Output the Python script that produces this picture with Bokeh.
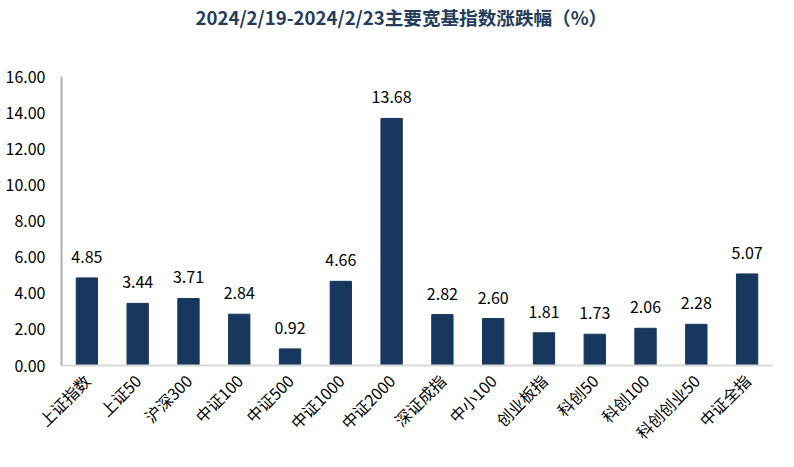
from math import pi
from bokeh.plotting import figure
from bokeh.models import ColumnDataSource, NumeralTickFormatter, FixedTicker, Title
from bokeh.core.properties import value
from bokeh.embed import file_html
from bokeh.resources import INLINE

categories = ["上证指数", "上证50", "沪深300", "中证100", "中证500", "中证1000", "中证2000",
              "深证成指", "中小100", "创业板指", "科创50", "科创100", "科创创业50", "中证全指"]
values = [4.85, 3.44, 3.71, 2.84, 0.92, 4.66, 13.68, 2.82, 2.60, 1.81, 1.73, 2.06, 2.28, 5.07]
y_ticks = [0, 2, 4, 6, 8, 10, 12, 14, 16]
title_text = "2024/2/19-2024/2/23主要宽基指数涨跌幅（%）"

FONT = "Noto Sans CJK SC"
BAR = "#17375E"

src = ColumnDataSource(dict(cat=categories, val=values, lab=[f"{v:.2f}" for v in values]))

p = figure(x_range=categories, y_range=(0, 16), width=786, height=455,
           output_backend="svg", toolbar_location=None,
           min_border_left=61, min_border_right=14, min_border_top=76, min_border_bottom=85)
p.x_range.range_padding = 0
p.title.text = ""

spacer = Title(text=" ", text_font_size="1px", standoff=44)
main_title = Title(text=title_text, align="left", offset=134, vertical_align="bottom",
                   standoff=0, text_font=FONT, text_font_size="18.6px",
                   text_font_style="bold", text_color="#243B5C")
p.add_layout(spacer, "above")
p.add_layout(main_title, "above")

p.vbar(x="cat", top="val", width=0.42, source=src, color=BAR)
p.text(x="cat", y="val", text="lab", source=src, text_align="center", text_baseline="bottom",
       y_offset=-15, text_font=value(FONT), text_font_size="16px", text_color="#000000")

p.outline_line_color = None
p.xgrid.grid_line_color = None
p.ygrid.grid_line_color = None

p.yaxis.ticker = FixedTicker(ticks=y_ticks)
p.yaxis.formatter = NumeralTickFormatter(format="0.00")
p.yaxis.axis_line_color = "#AFAFAF"
p.yaxis.axis_line_width = 2
p.yaxis.major_tick_line_color = None
p.yaxis.minor_tick_line_color = None
p.yaxis.major_label_text_font = FONT
p.yaxis.major_label_text_font_size = "16px"
p.yaxis.major_label_text_color = "#000000"
p.yaxis.major_label_standoff = 10

p.xaxis.axis_line_color = "#D9D9D9"
p.xaxis.axis_line_width = 2
p.xaxis.major_tick_line_color = None
p.xaxis.minor_tick_line_color = None
p.xaxis.major_label_orientation = pi / 4
p.xaxis.major_label_text_font = FONT
p.xaxis.major_label_text_font_size = "16px"
p.xaxis.major_label_text_color = "#000000"
p.xaxis.major_label_standoff = 6

open("out.html", "w").write(file_html(p, INLINE))
